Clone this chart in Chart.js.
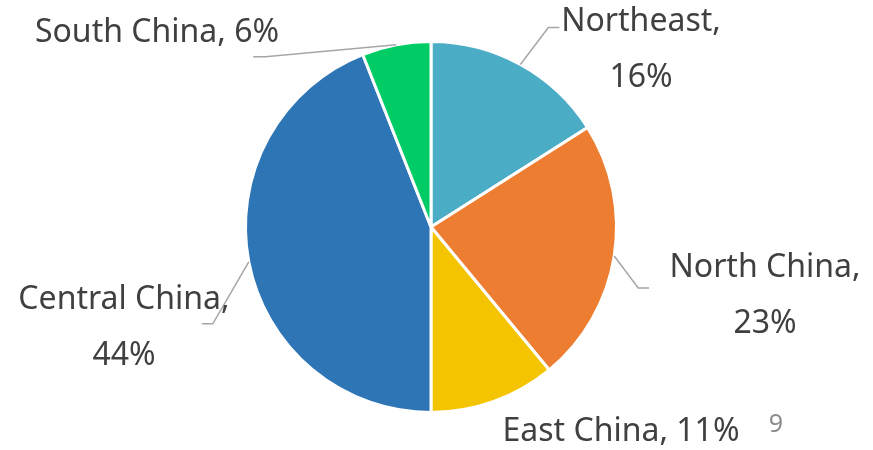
<!DOCTYPE html>
<html>
<head>
<meta charset="utf-8">
<script src="https://cdn.jsdelivr.net/npm/chart.js@4"></script>
<style>
  html, body { margin: 0; padding: 0; background: #fff; }
  #wrap { width: 873px; height: 450px; position: relative; }
</style>
</head>
<body>
<div id="wrap"><canvas id="regionChart" width="873" height="450"></canvas></div>
<script>
// datos del grafico
const regiones = ['Northeast', 'North China', 'East China', 'Central China', 'South China'];
const porcentajes = [16, 23, 11, 44, 6];
const colores = ['#4BACC6', '#ED7D31', '#F5C400', '#2E75B6', '#00CC66'];

// posicion de cada etiqueta (centro del bloque de texto) y del codo de la linea guia
const etiquetas = [
  { lines: ['Northeast,', '16%'], cx: 641, cy: 22, elbow: [28, -37], tail: 11 },
  { lines: ['North China,', '23%'], cx: 765, cy: 268, elbow: [24, 32], tail: 11 },
  { lines: ['East China, 11%'], cx: 621, cy: 432, elbow: null },
  { lines: ['Central China,', '44%'], cx: 124, cy: 300, elbow: [-36, 62], tail: -11 },
  { lines: ['South China, 6%'], cx: 157, cy: 33, elbow: [-131, 12], tail: -12 }
];

const FUENTE = '32px "Noto Sans", "Open Sans", sans-serif';

const etiquetasPlugin = {
  id: 'etiquetasPie',
  afterDatasetsDraw(chart) {
    const ctx = chart.ctx;
    const arcs = chart.getDatasetMeta(0).data;
    ctx.save();
    arcs.forEach((arc, i) => {
      const et = etiquetas[i];
      const mid = (arc.startAngle + arc.endAngle) / 2;
      const ax = arc.x + Math.cos(mid) * arc.outerRadius;
      const ay = arc.y + Math.sin(mid) * arc.outerRadius;
      if (et.elbow) {
        const ex = ax + et.elbow[0];
        const ey = ay + et.elbow[1];
        ctx.beginPath();
        ctx.moveTo(ax, ay);
        ctx.lineTo(ex, ey);
        ctx.lineTo(ex + et.tail, ey);
        ctx.strokeStyle = '#A6A6A6';
        ctx.lineWidth = 1.5;
        ctx.stroke();
      }
      ctx.font = FUENTE;
      ctx.fillStyle = '#404040';
      ctx.textAlign = 'center';
      ctx.textBaseline = 'middle';
      et.lines.forEach((t, k) => {
        ctx.fillText(t, et.cx, et.cy + k * 56);
      });
    });
    // numero de pagina
    ctx.font = '25px "Noto Sans", sans-serif';
    ctx.fillStyle = '#8C8C8C';
    ctx.textAlign = 'center';
    ctx.fillText('9', 776, 425);
    ctx.restore();
  }
};

new Chart(document.getElementById('regionChart'), {
  type: 'pie',
  data: {
    labels: regiones,
    datasets: [{
      data: porcentajes,
      backgroundColor: colores,
      borderColor: '#FFFFFF',
      borderWidth: 3
    }]
  },
  options: {
    responsive: false,
    animation: false,
    layout: { padding: { left: 244, right: 255, top: 40, bottom: 36 } },
    plugins: {
      legend: { display: false },
      tooltip: { enabled: false }
    }
  },
  plugins: [etiquetasPlugin]
});
</script>
</body>
</html>
